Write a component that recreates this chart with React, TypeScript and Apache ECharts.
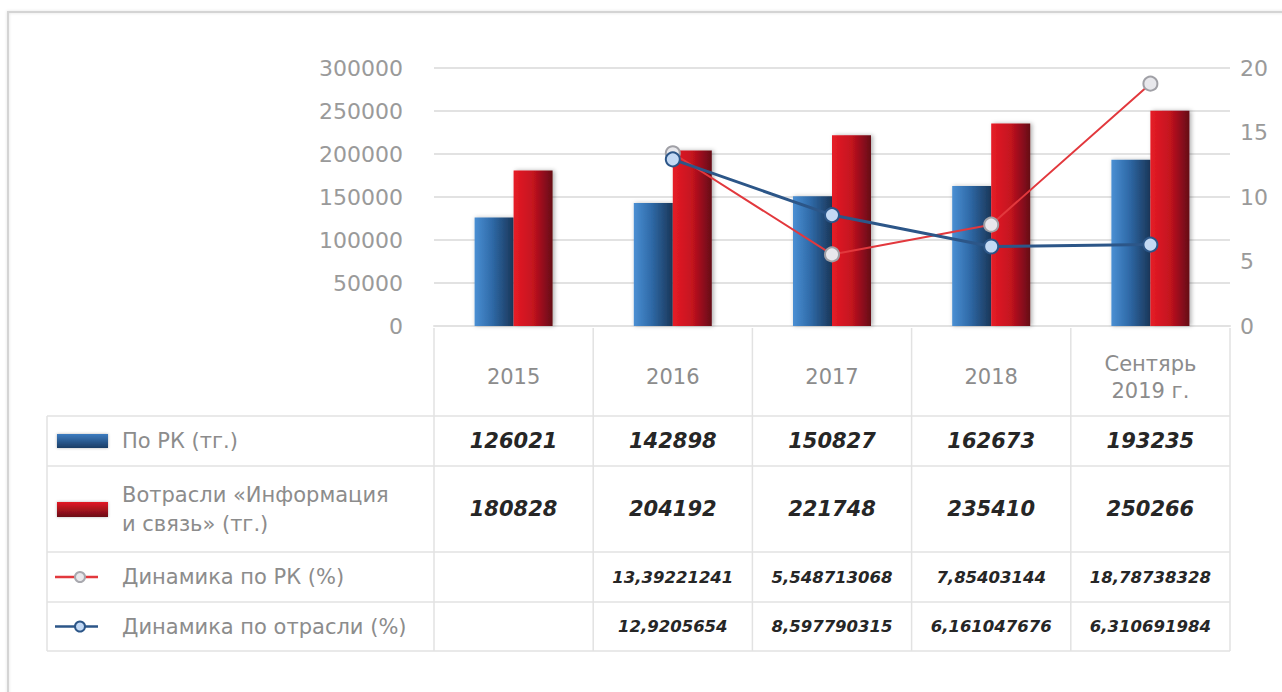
import React, { useEffect, useRef } from "react";
import * as echarts from "echarts";

const categories = ["2015", "2016", "2017", "2018", "Сентярь\n2019 г."];
const rkValues = [126021, 142898, 150827, 162673, 193235];
const industryValues = [180828, 204192, 221748, 235410, 250266];
const rkDynamics: (number | null)[] = [null, 13.39221241, 5.548713068, 7.85403144, 18.78738328];
const industryDynamics: (number | null)[] = [null, 12.9205654, 8.597790315, 6.161047676, 6.310691984];
const seriesNames = [
  "По РК (тг.)",
  "Вотрасли «Информация\nи связь» (тг.)",
  "Динамика по РК (%)",
  "Динамика по отрасли (%)",
];

const FONT = "'DejaVu Sans', sans-serif";
const GRAY_TEXT = "#8c8c8c";
const LINE_GRAY = "#e2e2e2";

const GRID_LEFT = 434;
const GRID_RIGHT = 52;
const GRID_TOP = 68;
const GRID_BOTTOM = 366;
const TABLE_LEFT = 47;
const ROW_LINES = [416, 466, 552, 602, 651];

const blueGrad = () =>
  new echarts.graphic.LinearGradient(0, 0, 1, 0, [
    { offset: 0, color: "#4a8fd3" },
    { offset: 0.45, color: "#2f6aa8" },
    { offset: 1, color: "#1a3658" },
  ]);
const redGrad = () =>
  new echarts.graphic.LinearGradient(0, 0, 1, 0, [
    { offset: 0, color: "#e61c26" },
    { offset: 0.5, color: "#c4121f" },
    { offset: 1, color: "#650d18" },
  ]);

export default function App() {
  const ref = useRef<HTMLDivElement>(null);

  useEffect(() => {
    if (!ref.current) return;
    const chart = echarts.init(ref.current, null, { renderer: "svg" });
    const option: any = {
      animation: false,
      grid: { left: GRID_LEFT, right: GRID_RIGHT, top: GRID_TOP, bottom: GRID_BOTTOM },
      xAxis: {
        type: "category",
        data: categories,
        axisLine: { show: true, lineStyle: { color: LINE_GRAY, width: 2 } },
        axisTick: { show: false },
        axisLabel: {
          color: GRAY_TEXT,
          fontFamily: FONT,
          fontSize: 21,
          lineHeight: 27,
          margin: 51,
          verticalAlign: "middle",
        },
      },
      yAxis: [
        {
          type: "value",
          min: 0,
          max: 300000,
          interval: 50000,
          axisLine: { show: false },
          axisTick: { show: false },
          splitLine: { lineStyle: { color: LINE_GRAY, width: 2 } },
          axisLabel: {
            color: "#9a9a9a",
            fontFamily: FONT,
            fontSize: 22,
            margin: 31,
            formatter: (v: number) => String(v),
          },
        },
        {
          type: "value",
          min: 0,
          max: 20,
          interval: 5,
          axisLine: { show: false },
          axisTick: { show: false },
          splitLine: { show: false },
          axisLabel: {
            color: "#9a9a9a",
            fontFamily: FONT,
            fontSize: 22,
            margin: 10,
            formatter: (v: number) => String(v),
          },
        },
      ],
      series: [
        {
          name: seriesNames[0],
          type: "bar",
          data: rkValues,
          barWidth: 39,
          barGap: "0%",
          itemStyle: {
            color: blueGrad(),
            shadowBlur: 4,
            shadowColor: "rgba(0,0,0,0.25)",
            shadowOffsetX: 1,
          },
        },
        {
          name: seriesNames[1],
          type: "bar",
          data: industryValues,
          barWidth: 39,
          barGap: "0%",
          itemStyle: {
            color: redGrad(),
            shadowBlur: 4,
            shadowColor: "rgba(0,0,0,0.3)",
            shadowOffsetX: 2,
          },
        },
        {
          name: seriesNames[2],
          type: "line",
          yAxisIndex: 1,
          data: rkDynamics,
          symbol: "circle",
          symbolSize: 14,
          lineStyle: { color: "#e2383d", width: 2 },
          itemStyle: { color: "#e8e8ec", borderColor: "#a0a0a6", borderWidth: 2 },
          z: 5,
        },
        {
          name: seriesNames[3],
          type: "line",
          yAxisIndex: 1,
          data: industryDynamics,
          symbol: "circle",
          symbolSize: 14,
          lineStyle: { color: "#2c5688", width: 3 },
          itemStyle: { color: "#c3d9f4", borderColor: "#2c5688", borderWidth: 2 },
          z: 6,
        },
      ],
    };
    chart.setOption(option);

    const centers = categories.map((_, i) => chart.convertToPixel({ xAxisIndex: 0 }, i) as number);
    const cellW = centers.length > 1 ? centers[1] - centers[0] : 160;
    const bounds = [centers[0] - cellW / 2, ...centers.map((c) => c + cellW / 2)];
    const tableRight = bounds[bounds.length - 1];
    const plotBottom = chart.convertToPixel({ yAxisIndex: 0 }, 0) as number;

    const g: any[] = [];
    g.push({
      type: "rect",
      silent: true,
      z: -10,
      shape: { x: 8, y: 12, width: 1300, height: 720 },
      style: { fill: "none", stroke: "#d4d4d4", lineWidth: 2, shadowBlur: 3, shadowColor: "rgba(0,0,0,0.12)" },
    });
    bounds.forEach((x) =>
      g.push({
        type: "line",
        silent: true,
        shape: { x1: x, y1: plotBottom + 2, x2: x, y2: ROW_LINES[ROW_LINES.length - 1] },
        style: { stroke: LINE_GRAY, lineWidth: 1.5 },
      })
    );
    g.push({
      type: "line",
      silent: true,
      shape: { x1: TABLE_LEFT, y1: ROW_LINES[0], x2: TABLE_LEFT, y2: ROW_LINES[ROW_LINES.length - 1] },
      style: { stroke: LINE_GRAY, lineWidth: 1.5 },
    });
    ROW_LINES.forEach((y) =>
      g.push({
        type: "line",
        silent: true,
        shape: { x1: TABLE_LEFT, y1: y, x2: tableRight, y2: y },
        style: { stroke: LINE_GRAY, lineWidth: 1.5 },
      })
    );

    const rowMid = (r: number) => (ROW_LINES[r] + ROW_LINES[r + 1]) / 2;

    g.push({
      type: "rect",
      silent: true,
      shape: { x: 57, y: rowMid(0) - 7, width: 51, height: 14 },
      style: {
        fill: new echarts.graphic.LinearGradient(0, 0, 0, 1, [
          { offset: 0, color: "#3c7cc0" },
          { offset: 1, color: "#1b3d66" },
        ]),
        shadowBlur: 3,
        shadowColor: "rgba(0,0,0,0.3)",
      },
    });
    g.push({
      type: "rect",
      silent: true,
      shape: { x: 57, y: rowMid(1) - 7, width: 51, height: 15 },
      style: {
        fill: new echarts.graphic.LinearGradient(0, 0, 0, 1, [
          { offset: 0, color: "#e31a24" },
          { offset: 1, color: "#6a0c16" },
        ]),
        shadowBlur: 3,
        shadowColor: "rgba(0,0,0,0.3)",
      },
    });
    const lineIcon = (y: number, stroke: string, fill: string, border: string) => {
      g.push({
        type: "line",
        silent: true,
        shape: { x1: 55, y1: y, x2: 98, y2: y },
        style: { stroke, lineWidth: 2.5 },
      });
      g.push({
        type: "circle",
        silent: true,
        shape: { cx: 80, cy: y, r: 5 },
        style: { fill, stroke: border, lineWidth: 2 },
      });
    };
    lineIcon(rowMid(2), "#e2383d", "#e8e8ec", "#a8a8ae");
    lineIcon(rowMid(3), "#2c5688", "#c3d9f4", "#2c5688");

    seriesNames.forEach((name, r) =>
      g.push({
        type: "text",
        silent: true,
        style: {
          text: name,
          x: 122,
          y: rowMid(r),
          align: "left",
          verticalAlign: "middle",
          fontFamily: FONT,
          fontSize: 21,
          lineHeight: 29,
          fill: GRAY_TEXT,
        },
      })
    );

    const fmt = (v: number | null) => (v == null ? "" : String(v).replace(".", ","));
    const rows: { values: (number | null)[]; size: number }[] = [
      { values: rkValues, size: 21 },
      { values: industryValues, size: 21 },
      { values: rkDynamics, size: 16.5 },
      { values: industryDynamics, size: 16.5 },
    ];
    rows.forEach((row, r) =>
      row.values.forEach((v, i) => {
        const t = fmt(v);
        if (!t) return;
        g.push({
          type: "text",
          silent: true,
          style: {
            text: t,
            x: centers[i],
            y: rowMid(r),
            align: "center",
            verticalAlign: "middle",
            fontFamily: FONT,
            fontSize: row.size,
            fontWeight: "bold",
            fontStyle: "italic",
            fill: "#262626",
          },
        });
      })
    );

    chart.setOption({ graphic: { elements: g } });

    return () => chart.dispose();
  }, []);

  return (
    <div
      ref={ref}
      style={{ position: "fixed", left: 0, top: 0, width: 1282, height: 692, background: "#fff" }}
    />
  );
}
